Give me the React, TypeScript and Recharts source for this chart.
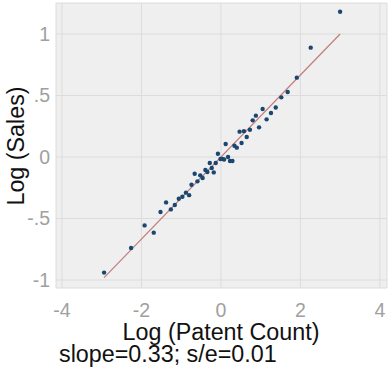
import React from 'react'
import {
  ComposedChart,
  Scatter,
  XAxis,
  YAxis,
  CartesianGrid,
  Label,
} from 'recharts'

// binned log-log points
const logPatents = [
  -2.94, -2.26, -1.92, -1.69, -1.52, -1.38, -1.26, -1.16, -1.06, -0.97,
  -0.88, -0.8, -0.74, -0.66, -0.59, -0.52, -0.46, -0.39, -0.34, -0.28,
  -0.23, -0.18, -0.13, -0.075, -0.01, 0.04, 0.08, 0.12, 0.18, 0.23,
  0.29, 0.34, 0.4, 0.47, 0.52, 0.58, 0.65, 0.73, 0.8, 0.88,
  0.96, 1.05, 1.15, 1.26, 1.38, 1.52, 1.68, 1.91, 2.26, 3.0,
]
const logSales = [
  -0.94, -0.74, -0.556, -0.615, -0.447, -0.369, -0.426, -0.39, -0.34, -0.323,
  -0.29, -0.31, -0.225, -0.136, -0.198, -0.149, -0.171, -0.106, -0.122, -0.049,
  -0.089, -0.125, -0.049, 0.027, -0.016, -0.015, -0.02, 0.106, 0.0, -0.033,
  -0.033, 0.092, 0.076, 0.206, 0.114, 0.21, 0.163, 0.222, 0.298, 0.336,
  0.241, 0.39, 0.306, 0.358, 0.403, 0.485, 0.528, 0.645, 0.889, 1.181,
]

// fitted line end points
const fitX = [-2.94, 3.0]
const fitY = [-0.98, 1.0]

const xTicks = [-4, -2, 0, 2, 4]
const yTicks = [-1, -0.5, 0, 0.5, 1]

const xTitle = 'Log (Patent Count)'
const yTitle = 'Log (Sales)'
const note = 'slope=0.33; s/e=0.01'

const points = logPatents.map((x, i) => ({ x, y: logSales[i] }))
const fit = fitX.map((x, i) => ({ x, y: fitY[i] }))

const font = '"Liberation Sans", Arial, sans-serif'

const fmtY = (v: number) =>
  String(v).replace('0.', '.')

export default function App() {
  return (
    <div
      style={{
        position: 'absolute',
        left: 0,
        top: 0,
        width: 392,
        height: 382,
        background: '#fff',
        fontFamily: font,
      }}
    >
      <ComposedChart
        width={392}
        height={382}
        margin={{ top: 3, right: 5, left: 0, bottom: 0 }}
      >
        <CartesianGrid
          fill="#efefef"
          stroke="#dcdcdc"
          strokeWidth={1}
        />
        <XAxis
          type="number"
          dataKey="x"
          domain={[-4.15, 4.18]}
          ticks={xTicks}
          height={94}
          tickLine={false}
          axisLine={false}
          tickSize={0}
          tickMargin={15}
          tick={{ fill: '#a0a0a0', fontSize: 19.5, fontFamily: font }}
        >
          <Label
            content={() => (
              <text
                x={221}
                y={340}
                textAnchor="middle"
                fill="#111"
                fontSize={23.3}
                fontFamily={font}
              >
                {xTitle}
              </text>
            )}
          />
          <Label
            content={() => (
              <text
                x={59}
                y={361.5}
                textAnchor="start"
                fill="#111"
                fontSize={23.3}
                fontFamily={font}
              >
                {note}
              </text>
            )}
          />
        </XAxis>
        <YAxis
          type="number"
          dataKey="y"
          domain={[-1.065, 1.252]}
          ticks={yTicks}
          width={56}
          tickLine={false}
          axisLine={false}
          tickSize={0}
          tickMargin={6}
          tickFormatter={fmtY}
          tick={{ fill: '#a0a0a0', fontSize: 19.5, fontFamily: font }}
        >
          <Label
            content={() => (
              <text
                x={24}
                y={146}
                transform="rotate(-90, 24, 146)"
                textAnchor="middle"
                fill="#111"
                fontSize={23.3}
                fontFamily={font}
              >
                {yTitle}
              </text>
            )}
          />
        </YAxis>
        <Scatter
          data={fit}
          line={{ stroke: '#c47b7b', strokeWidth: 1.2 }}
          shape={() => <g />}
          isAnimationActive={false}
        />
        <Scatter
          data={points}
          fill="#1a476f"
          shape={(p: any) => (
            <circle cx={p.cx} cy={p.cy} r={2.2} fill="#1a476f" />
          )}
          isAnimationActive={false}
        />
      </ComposedChart>
    </div>
  )
}
